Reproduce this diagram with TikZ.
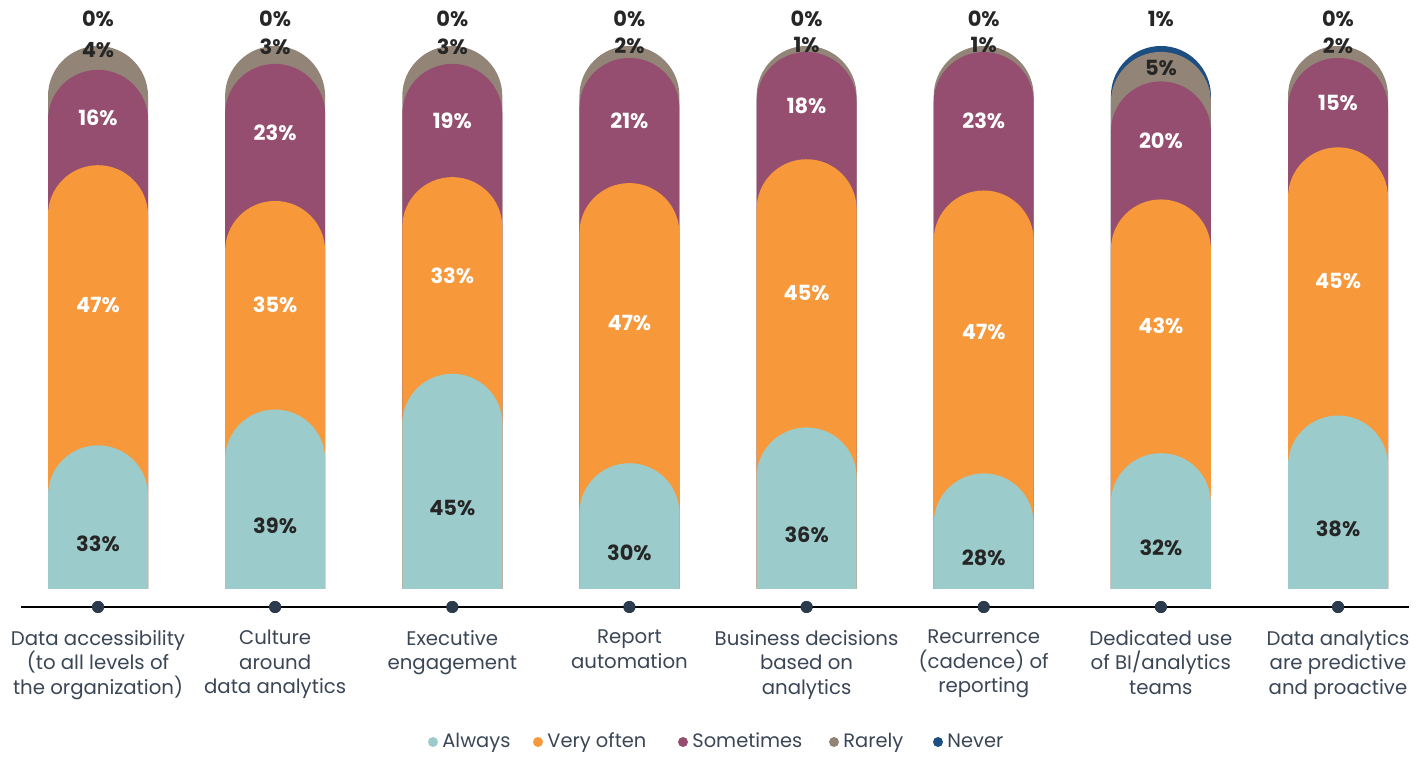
\documentclass[tikz,border=0pt]{standalone}
\usepackage{fontspec}
\setmainfont{Poppins}
\usetikzlibrary{positioning}

\definecolor{always}{HTML}{9BCCCB}
\definecolor{veryoften}{HTML}{F7983A}
\definecolor{sometimes}{HTML}{954E70}
\definecolor{rarely}{HTML}{928577}
\definecolor{never}{HTML}{1C4E82}
\definecolor{ink}{HTML}{262626}
\definecolor{slate}{HTML}{3A4656}
\definecolor{axisdot}{HTML}{2C3A4D}

% one rounded column part: colour, centre x, top y
\newcommand{\capsule}[3]{\fill[#1] (#2-50,167) -- (#2-50,#3-50) arc[start angle=180,end angle=0,radius=50] -- (#2+50,167) -- cycle;}

\begin{document}
\begin{tikzpicture}[x=1bp,y=1bp,
  num/.style={font=\fontsize{21}{21}\selectfont\bfseries,text=ink,inner sep=0},
  numw/.style={num,text=white},
  dot/.style={circle,fill=axisdot,minimum size=12bp,inner sep=0},
  cat/.style={font=\fontsize{19.8}{24.5}\selectfont,text=slate,align=center,anchor=north,inner sep=0},
  ldot/.style={circle,minimum size=10bp,inner sep=0},
  leg/.style={font=\fontsize{19.5}{19.5}\selectfont,text=slate,inner sep=0,text height=14bp,text depth=4bp}]
\useasboundingbox (0,0) rectangle (1417,756);

\foreach \cx/\va/\vb/\vc/\vd/\ve/\gy [count=\i] in
  {98/33/47/16/4/0/706, 275.1/39/35/23/3/0/709, 452.3/45/33/19/3/0/709, 629.4/30/47/21/2/0/710,
   806.6/36/45/18/1/0/711, 983.7/28/47/23/1/0/711, 1160.9/32/43/20/5/1/688, 1338/38/45/15/2/0/710}{
  \pgfmathsetmacro\tot{\va+\vb+\vc+\vd+\ve}
  \pgfmathsetmacro\ya{114+\va/\tot*596}
  \pgfmathsetmacro\yb{114+(\va+\vb)/\tot*596}
  \pgfmathsetmacro\yc{114+(\va+\vb+\vc)/\tot*596}
  \pgfmathsetmacro\yd{114+(\va+\vb+\vc+\vd)/\tot*596}
  \ifnum\ve>0 \capsule{never}{\cx}{710}\fi
  \capsule{rarely}{\cx}{\yd}
  \capsule{sometimes}{\cx}{\yc}
  \capsule{veryoften}{\cx}{\yb}
  \capsule{always}{\cx}{\ya}
  \node[num] (n\i) at (\cx,737) {\ve\%};
  \node[num] (r\i) at (\cx,\gy) {\vd\%};
  \node[numw] (s\i) at (\cx,{(\yb+\yc)/2}) {\vc\%};
  \node[numw] (v\i) at (\cx,{(\ya+\yb)/2}) {\vb\%};
  \node[num] (a\i) at (\cx,{(114+\ya)/2}) {\va\%};
  \node[dot] (d\i) at (\cx,149) {};
}

\coordinate (axl) at (21,149);
\coordinate (axr) at (1409,149);
\draw[line width=1.3bp,black] (axl) -- (axr);
\foreach \i in {1,...,8} \node[dot] at (d\i) {};

\foreach \txt [count=\i] in {{Data accessibility\\(to all levels of\\the organization)},
  {Culture\\around\\data analytics}, {Executive\\engagement}, {Report\\automation},
  {Business decisions\\based on\\analytics}, {Recurrence\\(cadence) of\\reporting},
  {Dedicated use\\of BI/analytics\\teams}, {Data analytics\\are predictive\\and proactive}}
  \node[cat] (c\i) at ({98+177.14*(\i-1)},126) {\txt};

% legend
\node[ldot,fill=always] (la) at (433,14) {};
\node[leg,right=4bp of la] (lat) {Always};
\node[ldot,fill=veryoften] (lv) at (538,14) {};
\node[leg,right=4bp of lv] (lvt) {Very often};
\node[ldot,fill=sometimes] (ls) at (683,14) {};
\node[leg,right=4bp of ls] (lst) {Sometimes};
\node[ldot,fill=rarely] (lr) at (834,14) {};
\node[leg,right=4bp of lr] (lrt) {Rarely};
\node[ldot,fill=never] (ln) at (938,14) {};
\node[leg,right=4bp of ln] (lnt) {Never};
\end{tikzpicture}
\end{document}
